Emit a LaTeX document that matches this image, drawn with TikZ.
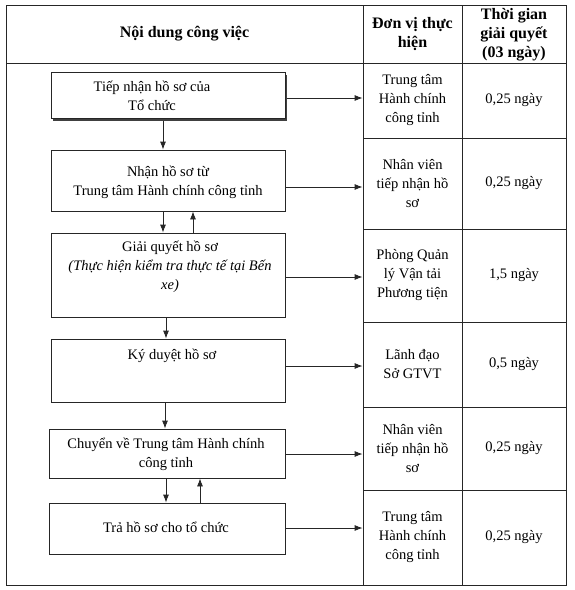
\documentclass[tikz,border=0pt]{standalone}
\usepackage{fontspec}
\setmainfont{Liberation Serif}
\usetikzlibrary{arrows.meta}
\newcommand\myfs{\fontsize{14.5}{19}\selectfont}
\newcommand\myhfs{\fontsize{16}{19}\selectfont\bfseries}
\begin{document}
\begin{tikzpicture}[x=1pt,y=-1pt,
  line/.style={draw=black!85, line width=0.8pt},
  cell/.style={line, rectangle, inner sep=0pt, align=center, font=\myfs},
  hcell/.style={cell, font=\myhfs},
  box/.style={line, rectangle, inner sep=0pt, fill=white},
  txt/.style={align=center, inner sep=0pt, font=\myfs},
  arr/.style={draw=black!85, line width=0.8pt, -{Latex[length=8pt,width=6pt]}}]
\useasboundingbox (0,0) rectangle (575,590);
% table
\node[hcell, minimum width=357pt, minimum height=58pt] (h1) at (184.5,34) {Nội dung công việc};
\node[hcell, minimum width=99pt, minimum height=58pt] (h2) at (412.5,34) {Đơn vị thực\\hiện};
\node[hcell, minimum width=104pt, minimum height=58pt] (h3) at (514,34) {};
\node[font=\myhfs, align=center, inner sep=0pt] (h3t) at (514,35) {Thời gian\\giải quyết\\(03 ngày)};
\node[cell, minimum width=357pt, minimum height=522pt] (body) at (184.5,324) {};
% rows: 63,138,229,322,407,490,585
\node[cell, minimum width=99pt, minimum height=75pt] (r1) at (412.5,100.5) {Trung tâm\\Hành chính\\công tỉnh};
\node[cell, minimum width=104pt, minimum height=75pt] (s1) at (514,100.5) {0,25 ngày};
\node[cell, minimum width=99pt, minimum height=91pt] (r2) at (412.5,183.5) {Nhân viên\\tiếp nhận hồ\\sơ};
\node[cell, minimum width=104pt, minimum height=91pt] (s2) at (514,183.5) {0,25 ngày};
\node[cell, minimum width=99pt, minimum height=93pt] (r3) at (412.5,275.5) {Phòng Quản\\lý Vận tải\\Phương tiện};
\node[cell, minimum width=104pt, minimum height=93pt] (s3) at (514,275.5) {1,5 ngày};
\node[cell, minimum width=99pt, minimum height=85pt] (r4) at (412.5,364.5) {Lãnh đạo\\Sở GTVT};
\node[cell, minimum width=104pt, minimum height=85pt] (s4) at (514,364.5) {0,5 ngày};
\node[cell, minimum width=99pt, minimum height=83pt] (r5) at (412.5,448.5) {Nhân viên\\tiếp nhận hồ\\sơ};
\node[cell, minimum width=104pt, minimum height=83pt] (s5) at (514,448.5) {0,25 ngày};
\node[cell, minimum width=99pt, minimum height=95pt] (r6) at (412.5,537.5) {Trung tâm\\Hành chính\\công tỉnh};
\node[cell, minimum width=104pt, minimum height=95pt] (s6) at (514,537.5) {0,25 ngày};
% boxes
\node[box, draw=none, fill=black!75, minimum width=234pt, minimum height=46pt] (b1s) at (169.5,97.5) {};
\node[box, minimum width=234pt, minimum height=46pt] (b1) at (168,95) {};
\node[box, minimum width=234pt, minimum height=61pt] (b2) at (168,180.5) {};
\node[box, minimum width=234pt, minimum height=84pt] (b3) at (168,275) {};
\node[box, minimum width=234pt, minimum height=63pt] (b4) at (168,370.5) {};
\node[box, minimum width=236pt, minimum height=49pt] (b5) at (167,453.5) {};
\node[box, minimum width=236pt, minimum height=51pt] (b6) at (167,528.5) {};
% box texts
\node[txt] (t1) at (152,96) {Tiếp nhận hồ sơ của\\Tổ chức};
\node[txt] (t2) at (168,182.5) {Nhận hồ sơ từ\\Trung tâm Hành chính công tỉnh};
\node[txt] (t3) at (170,267) {Giải quyết hồ sơ\\\textit{(Thực hiện kiểm tra thực tế tại Bến}\\\textit{xe)}};
\node[txt] (t4) at (172,356) {Ký duyệt hồ sơ};
\node[txt] (t5) at (166,454) {Chuyển về Trung tâm Hành chính\\công tỉnh};
\node[txt] (t6) at (166,527) {Trả hồ sơ cho tổ chức};
% horizontal arrows
\draw[arr] (b1s.east |- 0,98) -- (r1.west |- 0,98);
\draw[arr] (b2.east |- 0,187) -- (r2.west |- 0,187);
\draw[arr] (b3.east |- 0,277) -- (r3.west |- 0,277);
\draw[arr] (b4.east |- 0,366) -- (r4.west |- 0,366);
\draw[arr] (b5.east |- 0,454) -- (r5.west |- 0,454);
\draw[arr] (b6.east |- 0,528) -- (r6.west |- 0,528);
% vertical arrows
\draw[arr] (b1s.south -| 163,0) -- (b2.north -| 163,0);
\draw[arr] (b2.south -| 163,0) -- (b3.north -| 163,0);
\draw[arr] (b3.north -| 193,0) -- (b2.south -| 193,0);
\draw[arr] (b3.south -| 166,0) -- (b4.north -| 166,0);
\draw[arr] (b4.south -| 165,0) -- (b5.north -| 165,0);
\draw[arr] (b5.south -| 166,0) -- (b6.north -| 166,0);
\draw[arr] (b6.north -| 200,0) -- (b5.south -| 200,0);
\end{tikzpicture}
\end{document}
